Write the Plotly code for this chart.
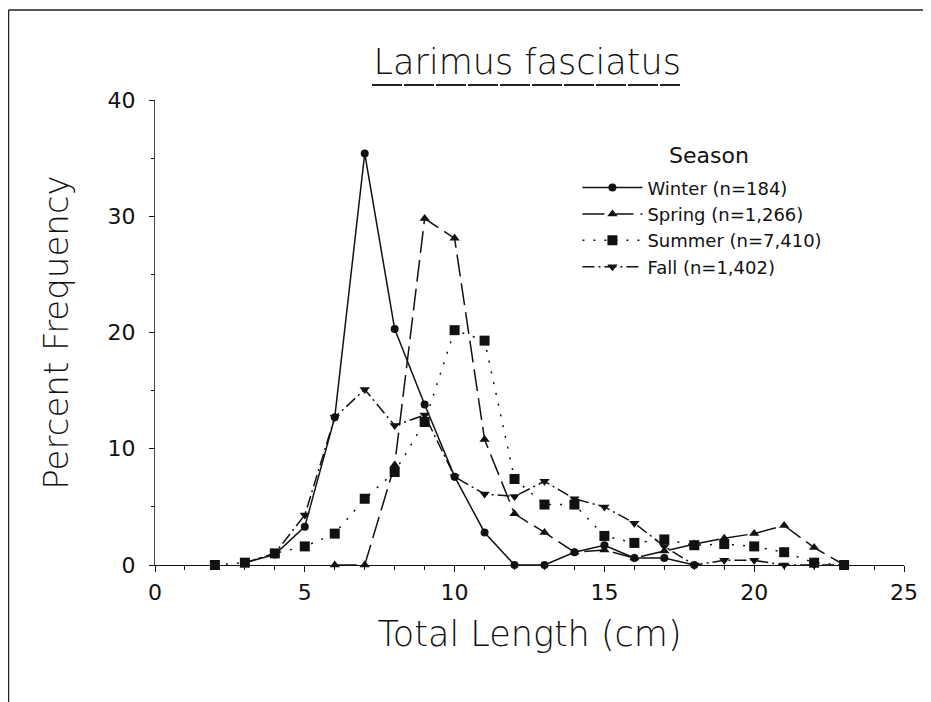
import plotly.graph_objects as go

# ---- data ----
winter_x = [3, 4, 5, 6, 7, 8, 9, 10, 11, 12, 13, 14, 15, 16, 17, 18]
winter_y = [0.2, 0.9, 3.3, 12.7, 35.4, 20.3, 13.8, 7.6, 2.8, 0, 0, 1.1, 1.7, 0.6, 0.6, 0]

spring_x = [6, 7, 8, 9, 10, 11, 12, 13, 14, 15, 16, 17, 18, 19, 20, 21, 22, 23]
spring_y = [0, 0, 8.6, 29.8, 28.1, 10.8, 4.4, 2.8, 1.1, 1.3, 0.6, 1.2, 1.8, 2.3, 2.7, 3.4, 1.5, 0]

summer_x = [2, 3, 4, 5, 6, 7, 8, 9, 10, 11, 12, 13, 14, 15, 16, 17, 18, 19, 20, 21, 22, 23]
summer_y = [0, 0.2, 1.0, 1.6, 2.7, 5.7, 8.0, 12.3, 20.2, 19.3, 7.4, 5.2, 5.2, 2.5, 1.9, 2.2, 1.7, 1.8, 1.6, 1.1, 0.2, 0]

fall_x = [3, 4, 5, 6, 7, 8, 9, 10, 11, 12, 13, 14, 15, 16, 17, 18, 19, 20, 21, 22, 23]
fall_y = [0.2, 1.0, 4.3, 12.7, 15.1, 12.0, 12.9, 7.6, 6.1, 5.9, 7.2, 5.7, 5.0, 3.6, 1.6, 0, 0.4, 0.4, 0, 0, 0]

series_names = ["Winter (n=184)", "Spring (n=1,266)", "Summer (n=7,410)", "Fall (n=1,402)"]
x_ticks = [0, 5, 10, 15, 20, 25]
y_ticks = [0, 10, 20, 30, 40]

FONT = "DejaVu Sans, sans-serif"
INK = "#111111"

def f(size, weight=200):
    return dict(family=FONT, size=size, color=INK, weight=weight)

fig = go.Figure()
specs = [
    (winter_x, winter_y, "solid", "circle", 8),
    (spring_x, spring_y, "22px,7px", "triangle-up", 9),
    (summer_x, summer_y, "2px,9px", "square", 10),
    (fall_x, fall_y, "12px,4px,2px,4px", "triangle-down", 9),
]
for (xs, ys, dash, sym, size), name in zip(specs, series_names):
    fig.add_trace(go.Scatter(
        x=xs, y=ys, name=name, mode="lines+markers",
        line=dict(color=INK, width=1.5, dash=dash),
        marker=dict(symbol=sym, size=size, color=INK),
        cliponaxis=False,
    ))

fig.update_layout(
    width=923, height=694,
    paper_bgcolor="white", plot_bgcolor="white",
    margin=dict(l=147, r=27, t=92, b=137),
    font=f(20, 400),
    title=dict(text="Larimus fasciatus", x=0.497, xref="paper",
               y=1 - 54 / 694, yref="container", xanchor="center", yanchor="middle",
               font=f(35)),
    showlegend=True,
    legend=dict(
        x=0.564, y=0.851, xanchor="left", yanchor="top",
        bgcolor="rgba(0,0,0,0)",
        font=f(18, 400),
        tracegroupgap=0, itemwidth=60,
    ),
    annotations=[
        dict(text="Season", xref="paper", yref="paper", x=0.74, y=0.8817,
             xanchor="center", yanchor="middle", showarrow=False, font=f(22, 400)),
    ],
    shapes=[
        # title underline
        dict(type="line", xref="paper", yref="paper", x0=0.2897, x1=0.701, y0=1.032, y1=1.032,
             line=dict(color="#222222", width=2, dash="30px,2px")),
        # frame lines (top and left)
        dict(type="line", xref="paper", yref="paper", x0=-0.1956, x1=1.04, y0=1.1935, y1=1.1935,
             line=dict(color="#222222", width=1.5)),
        dict(type="line", xref="paper", yref="paper", x0=-0.1956, x1=-0.1956, y0=1.1935, y1=-0.30,
             line=dict(color="#222222", width=1.5)),
    ],
)

fig.update_xaxes(
    range=[0, 25], tickvals=x_ticks, ticktext=[str(v) for v in x_ticks],
    showgrid=False, zeroline=False, showline=True, linecolor=INK, linewidth=1.2,
    ticks="outside", ticklen=6, tickwidth=1, tickcolor=INK,
    minor=dict(dtick=1, ticks="outside", ticklen=4, tickcolor=INK, showgrid=False),
    tickfont=f(22, 400), ticklabelstandoff=1,
    title=dict(text="Total Length (cm)", font=f(35), standoff=17),
)
fig.update_yaxes(
    range=[0, 40], tickvals=y_ticks, ticktext=[str(v) for v in y_ticks],
    showgrid=False, zeroline=False, showline=True, linecolor="#444444", linewidth=1,
    ticks="outside", ticklen=5, tickwidth=1, tickcolor=INK,
    minor=dict(dtick=5, ticks="outside", ticklen=3, tickcolor=INK, showgrid=False),
    tickfont=f(22, 400), ticklabelstandoff=9,
    title=dict(text="Percent Frequency", font=f(34), standoff=28),
)

fig.write_html("out.html")
